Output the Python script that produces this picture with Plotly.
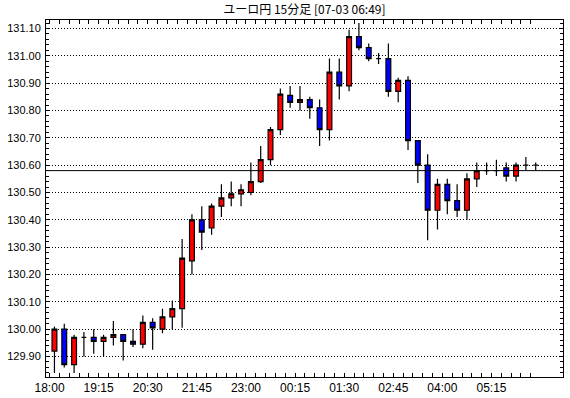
import plotly.graph_objects as go

# ---- data ----
opens = [129.92, 130.00, 129.87, 129.97, 129.97, 129.955, 129.97, 129.98, 129.955, 129.945,
         130.025, 130.00, 130.045, 130.075, 130.25, 130.40, 130.37, 130.45, 130.48, 130.495,
         130.50, 130.54, 130.62, 130.73, 130.855, 130.83, 130.84, 130.81, 130.73, 130.94,
         130.89, 131.07, 131.03, 130.99, 130.99, 130.87, 130.91, 130.69, 130.60, 130.435,
         130.53, 130.47, 130.435, 130.55, 130.58, 130.58, 130.59, 130.56, 130.60, 130.60]
highs = [130.01, 130.02, 129.98, 129.99, 130.00, 129.98, 130.03, 129.98, 130.00, 130.05,
         130.04, 130.075, 130.105, 130.33, 130.42, 130.45, 130.46, 130.53, 130.54, 130.53,
         130.61, 130.67, 130.74, 130.88, 130.89, 130.89, 130.85, 130.84, 130.99, 130.99,
         131.095, 131.12, 131.045, 131.01, 131.045, 130.92, 130.925, 130.69, 130.64, 130.55,
         130.55, 130.53, 130.57, 130.61, 130.61, 130.62, 130.61, 130.61, 130.63, 130.61]
lows = [129.84, 129.86, 129.84, 129.90, 129.91, 129.90, 129.94, 129.885, 129.935, 129.93,
        129.925, 129.985, 130.00, 130.005, 130.20, 130.29, 130.345, 130.41, 130.45, 130.45,
        130.49, 130.535, 130.60, 130.71, 130.81, 130.80, 130.77, 130.67, 130.69, 130.84,
        130.87, 131.02, 130.98, 130.97, 130.85, 130.83, 130.655, 130.535, 130.325, 130.365,
        130.42, 130.41, 130.40, 130.52, 130.565, 130.56, 130.54, 130.54, 130.58, 130.58]
closes = [130.00, 129.87, 129.97, 129.97, 129.955, 129.97, 129.98, 129.955, 129.945, 130.025,
          130.005, 130.045, 130.075, 130.26, 130.40, 130.355, 130.45, 130.48, 130.495, 130.51,
          130.54, 130.62, 130.73, 130.86, 130.83, 130.84, 130.81, 130.73, 130.94, 130.89,
          131.07, 131.03, 130.99, 130.99, 130.87, 130.91, 130.69, 130.60, 130.435, 130.53,
          130.47, 130.435, 130.55, 130.58, 130.58, 130.58, 130.56, 130.60, 130.60, 130.60]
current_price = 130.58

time_labels = ["18:00", "19:15", "20:30", "21:45", "23:00",
               "00:15", "01:30", "02:45", "04:00", "05:15"]
price_ticks = [129.90, 130.00, 130.10, 130.20, 130.30, 130.40, 130.50,
               130.60, 130.70, 130.80, 130.90, 131.00, 131.10]
title_text = "ユーロ円 15分足 [07-03 06:49]"

n = len(opens)
xs = list(range(n))

# x ticks at candle boundaries, labels every 5 candles (75 min)
x_tickvals = [i - 0.5 for i in range(n)]
x_ticktext = [""] * n
for k, lab in enumerate(time_labels):
    x_ticktext[k * 5] = lab

fig = go.Figure()
fig.add_trace(go.Candlestick(
    x=xs, open=opens, high=highs, low=lows, close=closes,
    increasing=dict(fillcolor="#ff0000", line=dict(color="#000000", width=1.2)),
    decreasing=dict(fillcolor="#0000ff", line=dict(color="#000000", width=1.2)),
    whiskerwidth=0,
    showlegend=False,
))

fig.add_shape(type="line", xref="paper", yref="y", x0=0, x1=1,
              y0=current_price, y1=current_price,
              line=dict(color="#000000", width=1))

fig.update_layout(
    width=570, height=398,
    margin=dict(l=46, r=7, t=20, b=21, autoexpand=False),
    paper_bgcolor="#ffffff", plot_bgcolor="#ffffff",
    boxgap=0.3,
    title=dict(text=title_text, x=0.534, xanchor="center",
               yref="container", y=0.975, yanchor="middle",
               font=dict(family="Noto Sans CJK JP", size=12, color="#000000")),
    showlegend=False,
    font=dict(family="Liberation Sans, Arial", color="#000000"),
)

fig.update_xaxes(
    range=[-0.86, 51.78],
    automargin=False,
    rangeslider=dict(visible=False),
    tickmode="array", tickvals=x_tickvals, ticktext=x_ticktext,
    ticks="inside", ticklen=4, tickwidth=1, tickcolor="#000000",
    showline=True, linecolor="#000000", linewidth=1, mirror="ticks",
    showgrid=False, zeroline=False,
    tickfont=dict(size=12, color="#000000"),
    tickangle=0,
)

fig.update_yaxes(
    range=[129.825, 131.131],
    automargin=False,
    tickmode="array", tickvals=price_ticks,
    ticktext=["%.2f" % v for v in price_ticks],
    ticks="inside", ticklen=4, tickwidth=1, tickcolor="#000000",
    minor=dict(tickmode="linear", tick0=129.90, dtick=0.02, ticks="inside",
               ticklen=3, tickcolor="#000000", showgrid=False),
    showline=True, linecolor="#000000", linewidth=1, mirror="ticks",
    showgrid=True, gridcolor="#000000", gridwidth=1, griddash="1px,2px",
    zeroline=False,
    tickfont=dict(size=11, color="#000000"),
    ticklabelstandoff=2,
)

fig.write_html("out.html",
               config={"displayModeBar": False},
               post_script="document.body.style.margin='0px';document.body.style.padding='0px';")
